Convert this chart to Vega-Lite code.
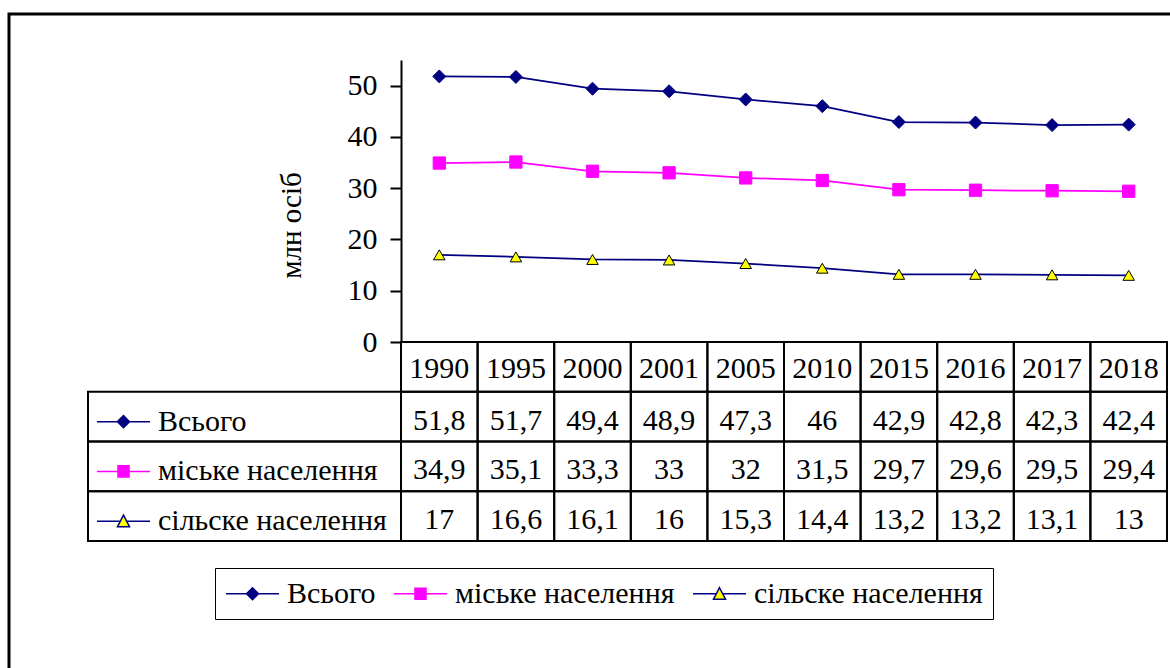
{
  "$schema": "https://vega.github.io/schema/vega-lite/v6.json",
  "width": 1175,
  "height": 664,
  "padding": {"left": 9, "top": 14, "right": 0, "bottom": 0},
  "background": "white",
  "config": {
    "view": {"stroke": "black", "strokeWidth": 3}
  },
  "datasets": {
    "pop": [
      {"year": 1990, "series": "Всього", "value": 51.8},
      {"year": 1995, "series": "Всього", "value": 51.7},
      {"year": 2000, "series": "Всього", "value": 49.4},
      {"year": 2001, "series": "Всього", "value": 48.9},
      {"year": 2005, "series": "Всього", "value": 47.3},
      {"year": 2010, "series": "Всього", "value": 46},
      {"year": 2015, "series": "Всього", "value": 42.9},
      {"year": 2016, "series": "Всього", "value": 42.8},
      {"year": 2017, "series": "Всього", "value": 42.3},
      {"year": 2018, "series": "Всього", "value": 42.4},
      {"year": 1990, "series": "міське населення", "value": 34.9},
      {"year": 1995, "series": "міське населення", "value": 35.1},
      {"year": 2000, "series": "міське населення", "value": 33.3},
      {"year": 2001, "series": "міське населення", "value": 33},
      {"year": 2005, "series": "міське населення", "value": 32},
      {"year": 2010, "series": "міське населення", "value": 31.5},
      {"year": 2015, "series": "міське населення", "value": 29.7},
      {"year": 2016, "series": "міське населення", "value": 29.6},
      {"year": 2017, "series": "міське населення", "value": 29.5},
      {"year": 2018, "series": "міське населення", "value": 29.4},
      {"year": 1990, "series": "сільске населення", "value": 17},
      {"year": 1995, "series": "сільске населення", "value": 16.6},
      {"year": 2000, "series": "сільске населення", "value": 16.1},
      {"year": 2001, "series": "сільске населення", "value": 16},
      {"year": 2005, "series": "сільске населення", "value": 15.3},
      {"year": 2010, "series": "сільске населення", "value": 14.4},
      {"year": 2015, "series": "сільске населення", "value": 13.2},
      {"year": 2016, "series": "сільске населення", "value": 13.2},
      {"year": 2017, "series": "сільске населення", "value": 13.1},
      {"year": 2018, "series": "сільске населення", "value": 13}
    ]
  },
  "data": {"name": "pop"},
  "resolve": {"scale": {"x": "independent", "y": "independent", "shape": "independent", "fill": "independent", "stroke": "independent", "size": "independent"}},
  "layer": [
    {
      "mark": {"type": "line", "strokeWidth": 1.75},
      "encoding": {
        "x": {"field": "year", "type": "ordinal", "scale": {"type": "band", "range": [392, 1158], "paddingInner": 0, "paddingOuter": 0}, "axis": null},
        "y": {"field": "value", "type": "quantitative", "scale": {"domain": [0, 55], "range": [328, 46], "nice": false},
          "axis": {"orient": "left", "offset": -392, "values": [0, 10, 20, 30, 40, 50], "grid": false,
            "domainColor": "black", "domainWidth": 2, "tickColor": "black", "tickWidth": 2, "tickSize": 11,
            "labelFont": "Liberation Serif", "labelFontSize": 30, "labelColor": "black", "labelPadding": 13, "labelOverlap": false, "labelFlush": false,
            "title": "млн осіб", "titleFont": "Liberation Serif", "titleFontSize": 29, "titleFontWeight": "normal", "titleColor": "black",
            "titleX": -110, "titleY": 211, "titleAngle": -90, "titleAlign": "center", "titleBaseline": "middle"}},
        "stroke": {"field": "series", "type": "nominal", "scale": {"domain": ["Всього", "міське населення", "сільске населення"], "range": ["#000080", "#FF00FF", "#000080"]}, "legend": null},
        "detail": {"field": "series"}
      }
    },
    {
      "mark": {"type": "point", "filled": true, "strokeWidth": 1, "opacity": 1},
      "encoding": {
        "x": {"field": "year", "type": "ordinal", "scale": {"type": "band", "range": [392, 1158], "paddingInner": 0, "paddingOuter": 0}, "axis": null},
        "y": {"field": "value", "type": "quantitative", "scale": {"domain": [0, 55], "range": [328, 46], "nice": false}, "axis": null},
        "shape": {"field": "series", "type": "nominal", "scale": {"domain": ["Всього", "міське населення", "сільске населення"], "range": ["diamond", "square", "triangle-up"]}, "legend": null},
        "size": {"field": "series", "type": "nominal", "scale": {"domain": ["Всього", "міське населення", "сільске населення"], "range": [169, 132, 165]}, "legend": null},
        "fill": {"field": "series", "type": "nominal", "scale": {"domain": ["Всього", "міське населення", "сільске населення"], "range": ["#000080", "#FF00FF", "#FFFF00"]}, "legend": null},
        "stroke": {"field": "series", "type": "nominal", "scale": {"domain": ["Всього", "міське населення", "сільске населення"], "range": ["#000080", "#FF00FF", "#000000"]}, "legend": null}
      }
    },
    {
      "transform": [{"aggregate": [{"op": "count", "as": "n"}], "groupby": ["year"]}],
      "mark": {"type": "rect", "filled": false, "color": "black", "strokeWidth": 2},
      "encoding": {
        "x": {"field": "year", "type": "ordinal", "scale": {"type": "band", "range": [392, 1158], "paddingInner": 0, "paddingOuter": 0}, "axis": null},
        "y": {"datum": "Рік", "type": "nominal", "scale": {"type": "band", "domain": ["Рік", "Всього", "міське населення", "сільске населення"], "range": [328, 527], "paddingInner": 0, "paddingOuter": 0}, "axis": null}
      }
    },
    {
      "transform": [{"aggregate": [{"op": "count", "as": "n"}], "groupby": ["year"]}],
      "mark": {"type": "text", "baseline": "middle", "align": "center", "font": "Liberation Serif", "fontSize": 30, "color": "black", "dy": 2},
      "encoding": {
        "x": {"field": "year", "type": "ordinal", "scale": {"type": "band", "range": [392, 1158], "paddingInner": 0, "paddingOuter": 0}, "axis": null},
        "y": {"datum": "Рік", "type": "nominal", "scale": {"type": "band", "domain": ["Рік", "Всього", "міське населення", "сільске населення"], "range": [328, 527], "paddingInner": 0, "paddingOuter": 0}, "axis": null},
        "text": {"field": "year", "type": "nominal"}
      }
    },
    {
      "mark": {"type": "rect", "filled": false, "color": "black", "strokeWidth": 2},
      "encoding": {
        "x": {"field": "year", "type": "ordinal", "scale": {"type": "band", "range": [392, 1158], "paddingInner": 0, "paddingOuter": 0}, "axis": null},
        "y": {"field": "series", "type": "nominal", "scale": {"type": "band", "domain": ["Рік", "Всього", "міське населення", "сільске населення"], "range": [328, 527], "paddingInner": 0, "paddingOuter": 0}, "axis": null}
      }
    },
    {
      "mark": {"type": "text", "baseline": "middle", "align": "center", "font": "Liberation Serif", "fontSize": 30, "color": "black", "dy": 4,
        "text": {"expr": "replace(format(datum.value, '.1~f'), '.', ',')"}},
      "encoding": {
        "x": {"field": "year", "type": "ordinal", "scale": {"type": "band", "range": [392, 1158], "paddingInner": 0, "paddingOuter": 0}, "axis": null},
        "y": {"field": "series", "type": "nominal", "scale": {"type": "band", "domain": ["Рік", "Всього", "міське населення", "сільске населення"], "range": [328, 527], "paddingInner": 0, "paddingOuter": 0}, "axis": null}
      }
    },
    {
      "transform": [{"aggregate": [{"op": "count", "as": "n"}], "groupby": ["series"]}],
      "mark": {"type": "rect", "filled": false, "color": "black", "strokeWidth": 2},
      "encoding": {
        "x": {"datum": "label", "type": "nominal", "scale": {"type": "band", "domain": ["label"], "range": [79, 392], "paddingInner": 0, "paddingOuter": 0}, "axis": null},
        "y": {"field": "series", "type": "nominal", "scale": {"type": "band", "domain": ["Рік", "Всього", "міське населення", "сільске населення"], "range": [328, 527], "paddingInner": 0, "paddingOuter": 0}, "axis": null}
      }
    },
    {
      "transform": [{"aggregate": [{"op": "count", "as": "n"}], "groupby": ["series"]}],
      "mark": {"type": "point", "filled": true, "size": 841, "strokeWidth": 1.5, "opacity": 1, "xOffset": 23.5, "yOffset": 5},
      "encoding": {
        "x": {"datum": "label", "type": "nominal", "bandPosition": 0, "scale": {"type": "band", "domain": ["label"], "range": [79, 392], "paddingInner": 0, "paddingOuter": 0}, "axis": null},
        "y": {"field": "series", "type": "nominal", "scale": {"type": "band", "domain": ["Рік", "Всього", "міське населення", "сільске населення"], "range": [328, 527], "paddingInner": 0, "paddingOuter": 0}, "axis": null},
        "shape": {"field": "series", "type": "nominal",
          "scale": {"domain": ["Всього", "міське населення", "сільске населення"],
            "range": ["M-1,0H0.414M1.242,0H2.655M0.414,0L0.828,-0.414L1.242,0L0.828,0.414Z", "M-1,0H0.448M1.208,0H2.655M0.448,-0.38H1.208V0.38H0.448Z", "M-1,0H0.612M1.044,0H2.655M0.828,-0.414L1.242,0.38L0.414,0.38Z"]},
          "legend": {"orient": "none", "legendX": 206, "legendY": 554, "direction": "horizontal", "columns": 3, "title": null,
            "strokeColor": "black", "padding": 10, "labelFont": "Liberation Serif", "labelFontSize": 30, "labelColor": "black",
            "symbolSize": 841, "symbolStrokeWidth": 1.5, "labelOffset": 31, "columnPadding": 15, "labelLimit": 0}},
        "fill": {"field": "series", "type": "nominal", "scale": {"domain": ["Всього", "міське населення", "сільске населення"], "range": ["#000080", "#FF00FF", "#FFFF00"]},
          "legend": {"orient": "none", "legendX": 206, "legendY": 554, "direction": "horizontal", "columns": 3, "title": null,
            "strokeColor": "black", "padding": 10, "labelFont": "Liberation Serif", "labelFontSize": 30, "labelColor": "black",
            "symbolSize": 841, "symbolStrokeWidth": 1.5, "labelOffset": 31, "columnPadding": 15, "labelLimit": 0}},
        "stroke": {"field": "series", "type": "nominal", "scale": {"domain": ["Всього", "міське населення", "сільске населення"], "range": ["#000080", "#FF00FF", "#000080"]},
          "legend": {"orient": "none", "legendX": 206, "legendY": 554, "direction": "horizontal", "columns": 3, "title": null,
            "strokeColor": "black", "padding": 10, "labelFont": "Liberation Serif", "labelFontSize": 30, "labelColor": "black",
            "symbolSize": 841, "symbolStrokeWidth": 1.5, "labelOffset": 31, "columnPadding": 15, "labelLimit": 0}}
      }
    },
    {
      "transform": [{"aggregate": [{"op": "count", "as": "n"}], "groupby": ["series"]}],
      "mark": {"type": "text", "baseline": "middle", "align": "left", "dx": 70, "dy": 5, "font": "Liberation Serif", "fontSize": 30, "color": "black"},
      "encoding": {
        "x": {"datum": "label", "type": "nominal", "bandPosition": 0, "scale": {"type": "band", "domain": ["label"], "range": [79, 392], "paddingInner": 0, "paddingOuter": 0}, "axis": null},
        "y": {"field": "series", "type": "nominal", "scale": {"type": "band", "domain": ["Рік", "Всього", "міське населення", "сільске населення"], "range": [328, 527], "paddingInner": 0, "paddingOuter": 0}, "axis": null},
        "text": {"field": "series", "type": "nominal"}
      }
    }
  ]
}
